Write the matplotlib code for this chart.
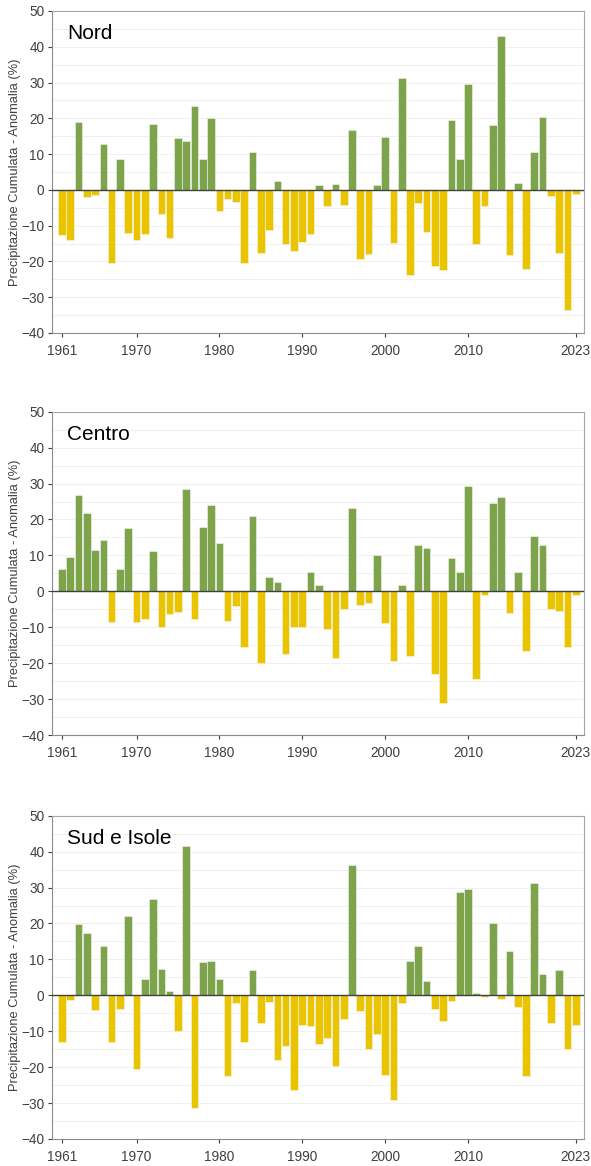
import matplotlib
matplotlib.use("Agg")
import matplotlib.pyplot as plt
import numpy as np

years = list(range(1961, 2024))

nord = [-12.5, -14.0, 19.0, -2.0, -1.5, 12.8, -20.3, 8.7, -12.0, -14.0,
        -12.3, 18.3, -6.8, -13.4, 14.6, 13.8, 23.4, 8.7, 20.0, -6.0,
        -2.5, -3.5, -20.3, 10.7, -17.7, -11.2, 2.5, -15.2, -17.2, -14.5,
        -12.3, 1.3, -4.5, 1.7, -4.2, 16.8, -19.3, -17.8, 1.3, 14.9,
        -14.8, 31.3, -23.8, -3.7, -11.8, -21.3, -22.3, 19.4, 8.5, 29.6,
        -15.1, -4.6, 18.2, 43.1, -18.2, 1.8, -22.1, 10.5, 20.4, -1.8,
        -17.6, -33.6, -1.2]

centro = [6.3, 9.5, 26.9, 21.7, 11.4, 14.3, -8.5, 6.2, 17.6, -8.5,
          -7.7, 11.3, -10.0, -6.3, -5.8, 28.4, -7.6, 18.0, 24.1, 13.5,
          -8.3, -4.0, -15.6, 21.0, -19.9, 4.0, 2.7, -17.4, -9.8, -10.0,
          5.5, 1.8, -10.4, -18.7, -4.9, 23.2, -3.8, -3.3, 10.2, -8.8,
          -19.5, 1.7, -18.0, 12.8, 12.0, -23.0, -31.0, 9.2, 5.5, 29.3,
          -24.3, -1.1, 24.5, 26.2, -5.9, 5.5, -16.5, 15.5, 12.8, -4.9,
          -5.4, -15.6, -0.9]

sud = [-13.0, -1.4, 19.9, 17.3, -4.2, 13.7, -13.0, -3.9, 22.0, -20.5,
       4.5, 26.7, 7.4, 1.3, -10.0, 41.7, -31.3, 9.4, 9.6, 4.5,
       -22.6, -2.2, -12.9, 7.0, -7.7, -1.8, -18.0, -14.0, -26.4, -8.2,
       -8.6, -13.5, -11.8, -19.7, -6.6, 36.4, -4.5, -14.9, -10.9, -22.2,
       -29.1, -2.2, 9.6, 13.8, 4.1, -3.9, -7.1, -1.7, 28.8, 29.5,
       0.6, -0.6, 20.1, -1.1, 12.2, -3.3, -22.4, 31.4, 5.8, -7.7,
       7.1, -14.9, -8.2]

titles = ["Nord", "Centro", "Sud e Isole"]
series = [nord, centro, sud]
xticks = [1961, 1970, 1980, 1990, 2000, 2010, 2023]
yticks = list(range(-40, 51, 10))
ylabel = "Precipitazione Cumulata - Anomalia (%)"

GREEN = "#7da44b"
YELLOW = "#ebc400"

plt.rcParams['font.family'] = ['Liberation Sans', 'DejaVu Sans']

fig = plt.figure(figsize=(5.91, 11.66), dpi=100)
H = 1166.0
W = 591.0
panels_px = [(11, 333), (411.7, 735), (815.7, 1139)]
left_px, right_px = 52, 584

for (top, bot), title, vals in zip(panels_px, titles, series):
    ax = fig.add_axes([left_px / W, 1 - bot / H, (right_px - left_px) / W, (bot - top) / H])
    v = np.array(vals)
    colors = [GREEN if x >= 0 else YELLOW for x in v]
    ax.bar(years, v, width=0.92, color=colors, edgecolor="#f4f4f4", linewidth=0.4, zorder=3)
    ax.axhline(0, color="#404040", linewidth=1.0, zorder=4)
    ax.set_xlim(1959.8, 2024.0)
    ax.set_ylim(-40, 50)
    ax.set_yticks(yticks)
    ax.set_yticks(list(range(-35, 50, 10)), minor=True)
    ax.set_xticks(xticks)
    ax.grid(axis="y", which="both", color="#f0f0f0", linewidth=0.7, zorder=0)
    ax.tick_params(axis="y", which="minor", length=0)
    ax.tick_params(axis="both", which="major", labelsize=9.8, colors="#404040",
                   length=3, width=0.8)
    ax.tick_params(axis="x", which="major", pad=5)
    ax.tick_params(axis="y", which="major", pad=2.5)
    for s in ["top", "right"]:
        ax.spines[s].set_color("#a6a6a6")
        ax.spines[s].set_linewidth(0.8)
    for s in ["left", "bottom"]:
        ax.spines[s].set_color("#8c8c8c")
        ax.spines[s].set_linewidth(0.8)
    ax.set_ylabel(ylabel, fontsize=9.3, color="#404040")
    ax.yaxis.set_label_coords(-0.058, 0.5)
    ax.text(0.028, 0.93, title, transform=ax.transAxes, fontsize=15,
            color="black", va="center", ha="left")

fig.savefig("out.png", dpi=100)
